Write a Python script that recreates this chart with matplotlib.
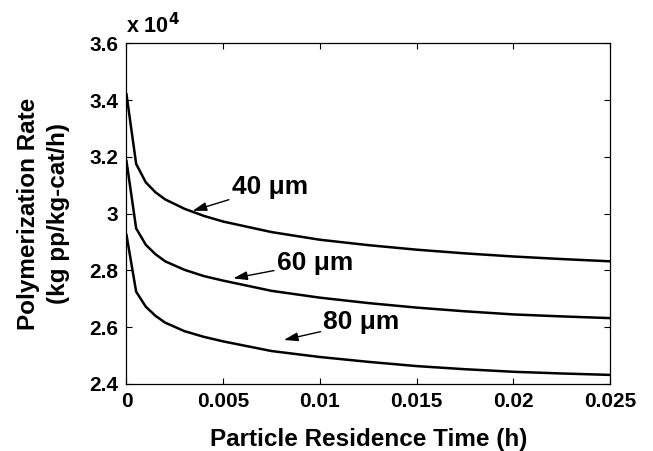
import numpy as np
import matplotlib
matplotlib.use('Agg')
import matplotlib.pyplot as plt

# residence time (h) and polymerization rate (x 10^4 kg pp/kg-cat/h)
time_h = [0, 0.0005, 0.001, 0.0015, 0.002, 0.003, 0.004, 0.005, 0.0075,
          0.01, 0.0125, 0.015, 0.0175, 0.02, 0.0225, 0.025]
rate_40um = [3.42, 3.175, 3.11, 3.075, 3.05, 3.017, 2.992, 2.972, 2.935,
             2.908, 2.889, 2.873, 2.86, 2.849, 2.84, 2.832]
rate_60um = [3.185, 2.948, 2.89, 2.857, 2.832, 2.802, 2.78, 2.764, 2.728,
             2.704, 2.685, 2.669, 2.656, 2.645, 2.638, 2.632]
rate_80um = [2.925, 2.725, 2.672, 2.64, 2.616, 2.586, 2.566, 2.55, 2.516,
             2.495, 2.478, 2.463, 2.452, 2.443, 2.437, 2.432]

labels = ['40 \u03bcm', '60 \u03bcm', '80 \u03bcm']
series = [rate_40um, rate_60um, rate_80um]
arrow_head = [(0.00342, 3.010), (0.00552, 2.772), (0.00814, 2.555)]
arrow_tail = [(0.00544, 3.093), (0.00777, 2.827), (0.01018, 2.617)]

xticks = [0, 0.005, 0.01, 0.015, 0.02, 0.025]
xticklabels = ['0', '0.005', '0.01', '0.015', '0.02', '0.025']
yticks = [2.4, 2.6, 2.8, 3.0, 3.2, 3.4, 3.6]
yticklabels = ['2.4', '2.6', '2.8', '3', '3.2', '3.4', '3.6']

plt.rcParams['font.family'] = ['Liberation Sans', 'DejaVu Sans']
plt.rcParams['font.weight'] = 'bold'

fig = plt.figure(figsize=(6.53, 4.51), dpi=100)
ax = fig.add_axes([0.1937, 0.1486, 0.7404, 0.7555])

for vals in series:
    ax.plot(time_h, vals, color='black', linewidth=1.8)

for lab, head, tail in zip(labels, arrow_head, arrow_tail):
    ax.annotate(lab, xy=head, xytext=tail, fontsize=19, fontweight='bold',
                ha='left', va='center',
                arrowprops=dict(arrowstyle='-|>,head_length=0.7,head_width=0.22',
                                color='black', lw=1.0,
                                mutation_scale=12, shrinkA=0, shrinkB=0))

ax.set_xlim(0, 0.025)
ax.set_ylim(2.4, 3.6)
ax.set_xticks(xticks)
ax.set_xticklabels(xticklabels)
ax.set_yticks(yticks)
ax.set_yticklabels(yticklabels)
ax.tick_params(direction='in', length=4, width=0.8, top=True, right=True,
               labelsize=15, pad=6)
for sp in ax.spines.values():
    sp.set_linewidth(0.9)

ax.set_xlabel('Particle Residence Time (h)', fontsize=17.5, fontweight='bold',
              labelpad=12)
ax.set_ylabel('Polymerization Rate\n(kg pp/kg-cat/h)', fontsize=17.5,
              fontweight='bold', linespacing=1.35, labelpad=14)
ax.text(0, 1.015, 'x 10$^\\mathbf{4}$', transform=ax.transAxes, fontsize=15.5,
        fontweight='bold', ha='left', va='bottom')

plt.savefig('out.png', dpi=100)
